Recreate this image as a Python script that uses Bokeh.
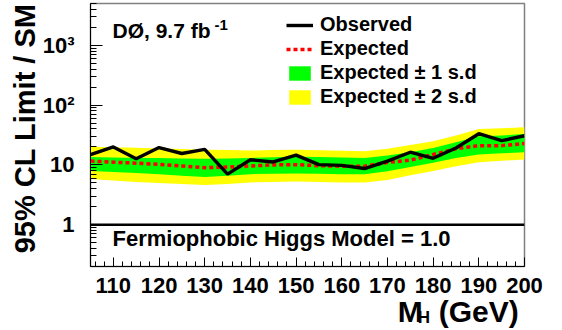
import math
from bokeh.plotting import figure
from bokeh.models import (Range1d, FixedTicker, Span, Label, Legend, LegendItem,
                          LinearAxis, Title)
from bokeh.embed import file_html
from bokeh.resources import INLINE

# ---- data ----
mass = [105, 110, 115, 120, 125, 130, 135, 140, 145, 150,
        155, 160, 165, 170, 175, 180, 185, 190, 195, 200]
observed = [14.9, 20.0, 12.7, 19.5, 15.5, 18.2, 7.0, 12.2, 11.2, 14.6,
            10.1, 9.8, 8.7, 11.6, 16.3, 12.9, 19.2, 33.2, 25.4, 30.7]
expected = [11.6, 11.1, 10.7, 10.2, 9.6, 9.0, 9.2, 9.6, 10.0, 10.1,
            9.7, 9.5, 9.5, 11.0, 12.0, 14.9, 18.6, 21.0, 21.0, 22.7]
exp_plus1 = [13.5, 13.3, 13.1, 13.0, 12.8, 12.7, 12.8, 13.1, 13.4, 13.7,
             13.5, 13.3, 13.1, 14.3, 16.2, 19.2, 24.0, 30.0, 31.0, 33.0]
exp_minus1 = [7.9, 7.6, 7.3, 7.0, 6.6, 6.3, 6.6, 7.0, 7.1, 7.2,
              7.1, 7.0, 7.0, 7.8, 9.2, 10.9, 13.0, 14.9, 15.6, 16.3]
exp_plus2 = [20.2, 19.8, 19.3, 18.8, 18.4, 18.0, 17.7, 17.4, 17.7, 18.0,
             17.5, 17.2, 16.9, 18.6, 21.5, 24.8, 31.0, 39.7, 41.0, 42.7]
exp_minus2 = [5.8, 5.5, 5.2, 5.0, 4.8, 4.6, 4.8, 5.1, 5.2, 5.3,
              5.2, 5.1, 5.1, 5.6, 6.7, 7.9, 9.5, 11.1, 11.7, 12.3]

x_major = [110, 120, 130, 140, 150, 160, 170, 180, 190, 200]
x_minor = [v for v in range(106, 201, 2) if v % 10 != 0]
y_major = [1, 10, 100, 1000]
y_minor = [m * 10.0 ** k for k in range(-1, 4) for m in range(2, 10)]
y_major_labels = {1: "1", 10: "10", 100: "10²", 1000: "10³"}

FONT = "Liberation Sans"

p = figure(width=562, height=330, output_backend="svg", toolbar_location=None,
           x_range=Range1d(105, 200), y_range=Range1d(0.2, 5000),
           y_axis_type="log",
           min_border_left=90, min_border_right=38,
           min_border_top=3, min_border_bottom=62)
p.background_fill_color = "white"
p.border_fill_color = "white"
p.outline_line_color = "#808080"
p.outline_line_width = 1.5
p.grid.visible = False

# bands and curves
r2 = p.varea(x=mass, y1=exp_minus2, y2=exp_plus2, fill_color="#ffff00")
r1 = p.varea(x=mass, y1=exp_minus1, y2=exp_plus1, fill_color="#00ff00")
re = p.line(mass, expected, line_color="#ff0000", line_width=3.5,
            line_dash="4 3")
ro = p.line(mass, observed, line_color="black", line_width=3.4)

p.add_layout(Span(location=1, dimension="width", line_color="black",
                  line_width=2.5))

# axes
xa = p.xaxis[0]
xa.ticker = FixedTicker(ticks=x_major, minor_ticks=x_minor)
ya = p.yaxis[0]
ya.ticker = FixedTicker(ticks=y_major, minor_ticks=y_minor)
ya.major_label_overrides = y_major_labels
for ax in (xa, ya):
    ax.axis_line_color = "black"
    ax.axis_line_width = 1
    ax.major_tick_line_color = "black"
    ax.minor_tick_line_color = "black"
    ax.major_tick_line_width = 1
    ax.minor_tick_line_width = 1
    ax.major_tick_out = 0
    ax.minor_tick_out = 0
    ax.major_label_text_font = FONT
    ax.major_label_text_font_style = "bold"
    ax.major_label_text_font_size = "22px"
    ax.major_label_text_color = "black"
xa.major_tick_in = 9
xa.minor_tick_in = 5
xa.major_label_standoff = 11
ya.major_tick_in = 12
ya.minor_tick_in = 6
ya.major_label_standoff = 16

# y title on the left, aligned to the top of the frame
ytitle = Title(text="95% CL Limit / SM", align="right", text_font=FONT,
               text_font_style="bold", text_font_size="29px",
               text_color="black", standoff=-3)
p.add_layout(ytitle, "left")

# x title "M_H (GeV)" built from two label-only axes
title_pos = {175: "M", 190: "(GeV)"}
sub_pos = {178: "H"}


def label_axis(labels, size, standoff):
    ax = LinearAxis(ticker=FixedTicker(ticks=list(labels.keys())),
                    major_label_overrides=labels)
    ax.axis_line_color = None
    ax.major_tick_line_color = None
    ax.minor_tick_line_color = None
    ax.major_label_text_font = FONT
    ax.major_label_text_font_style = "bold"
    ax.major_label_text_font_size = size
    ax.major_label_text_color = "black"
    ax.major_label_standoff = standoff
    return ax


p.add_layout(label_axis(title_pos, "30px", -7), "below")
p.add_layout(label_axis(sub_pos, "17px", -29), "below")


def lab(text, x, y, size, **kw):
    return Label(x=x, y=y, x_units="screen", y_units="screen", text=text,
                 text_font=FONT, text_font_style="bold",
                 text_font_size=size, text_color="black", **kw)


p.add_layout(lab("DØ, 9.7 fb", 22, 225, "21px"))
p.add_layout(lab("-1", 124, 237, "15px"))
p.add_layout(lab("Fermiophobic Higgs Model = 1.0", 22, 16, "22px"))

legend = Legend(items=[
    LegendItem(label="Observed", renderers=[ro]),
    LegendItem(label="Expected", renderers=[re]),
    LegendItem(label="Expected ± 1 s.d", renderers=[r1]),
    LegendItem(label="Expected ± 2 s.d", renderers=[r2]),
], location=(196, 158), padding=0, margin=0, spacing=1,
    glyph_width=27, glyph_height=18, label_height=21, label_standoff=7,
    background_fill_alpha=0, border_line_alpha=0,
    label_text_font=FONT, label_text_font_style="bold",
    label_text_font_size="20px", label_text_color="black")
p.add_layout(legend)

open("out.html", "w").write(file_html(p, INLINE))
